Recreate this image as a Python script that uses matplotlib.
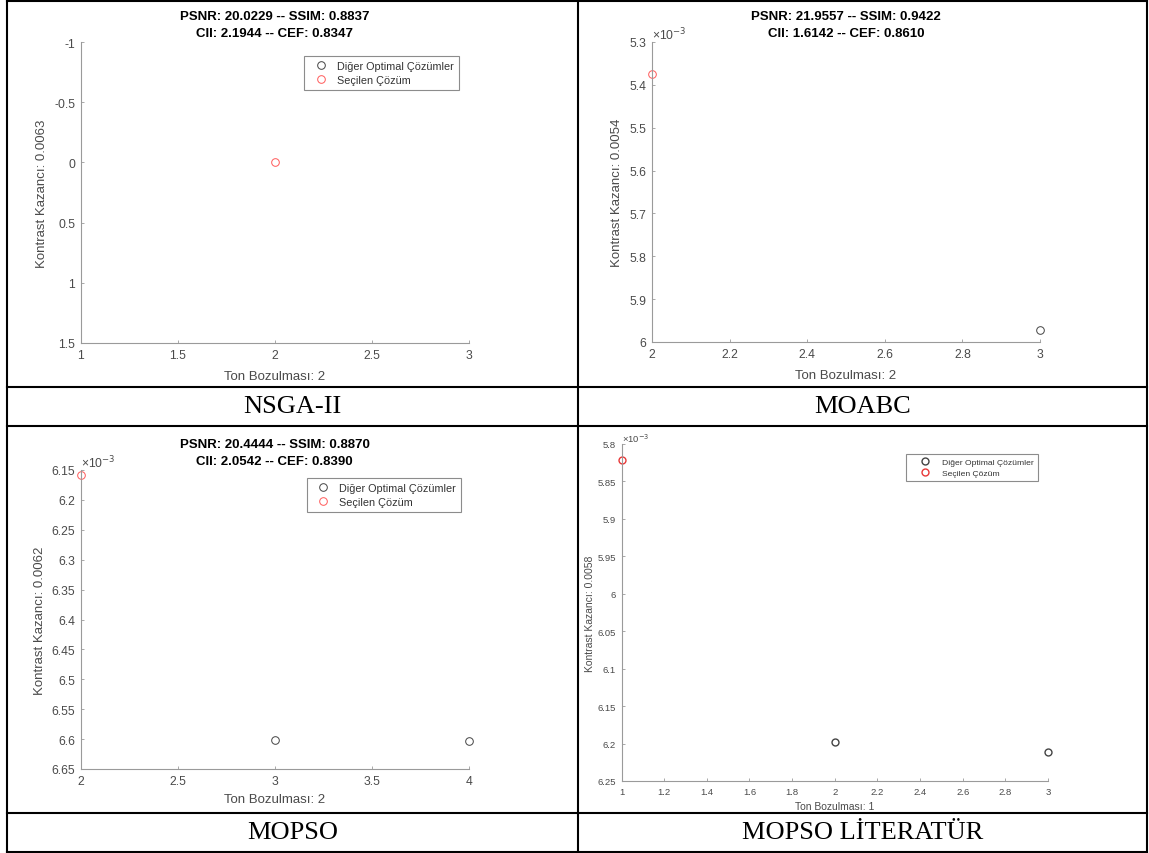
import matplotlib
matplotlib.use("Agg")
import matplotlib.pyplot as plt
from matplotlib.ticker import FixedLocator, FixedFormatter

plt.rcParams['font.family'] = ['Liberation Sans', 'DejaVu Sans']
plt.rcParams['axes.unicode_minus'] = False

W, H = 1149, 854

# =========================
# DATA (y values of panels 2-4 are in units of 1e-3)
# =========================
captions = ["NSGA-II", "MOABC", "MOPSO", "MOPSO LİTERATÜR"]
titles = ["PSNR: 20.0229 -- SSIM: 0.8837\nCII: 2.1944 -- CEF: 0.8347",
          "PSNR: 21.9557 -- SSIM: 0.9422\nCII: 1.6142 -- CEF: 0.8610",
          "PSNR: 20.4444 -- SSIM: 0.8870\nCII: 2.0542 -- CEF: 0.8390",
          None]
ylabels = ["Kontrast Kazancı: 0.0063", "Kontrast Kazancı: 0.0054",
           "Kontrast Kazancı: 0.0062", "Kontrast Kazancı: 0.0058"]
xlabels = ["Ton Bozulması: 2", "Ton Bozulması: 2",
           "Ton Bozulması: 2", "Ton Bozulması: 1"]
legend_labels = ["Diğer Optimal Çözümler", "Seçilen Çözüm"]

nsga_other_x, nsga_other_y = [], []
nsga_sel_x, nsga_sel_y = [2], [0]
moabc_other_x, moabc_other_y = [3], [5.972]
moabc_sel_x, moabc_sel_y = [2], [5.375]
mopso_other_x, mopso_other_y = [3, 4], [6.602, 6.604]
mopso_sel_x, mopso_sel_y = [2], [6.158]
lit_other_x, lit_other_y = [2, 3], [6.198, 6.211]
lit_sel_x, lit_sel_y = [1], [5.821]

nsga_xticks = [1, 1.5, 2, 2.5, 3]
nsga_yticks = [-1, -0.5, 0, 0.5, 1, 1.5]
moabc_xticks = [2, 2.2, 2.4, 2.6, 2.8, 3]
moabc_yticks = [5.3, 5.4, 5.5, 5.6, 5.7, 5.8, 5.9, 6]
mopso_xticks = [2, 2.5, 3, 3.5, 4]
mopso_yticks = [6.15, 6.2, 6.25, 6.3, 6.35, 6.4, 6.45, 6.5, 6.55, 6.6, 6.65]
lit_xticks = [1, 1.2, 1.4, 1.6, 1.8, 2, 2.2, 2.4, 2.6, 2.8, 3]
lit_yticks = [5.8, 5.85, 5.9, 5.95, 6, 6.05, 6.1, 6.15, 6.2, 6.25]

AX_COL = '#9a9a9a'
TXT_COL = '#4a4a4a'

fig = plt.figure(figsize=(W / 100, H / 100), dpi=100)

# =========================
# TABLE GRID + CAPTIONS
# =========================
bg = fig.add_axes([0, 0, 1, 1], zorder=-1)
bg.set_xlim(0, W)
bg.set_ylim(H, 0)
bg.axis('off')
xs = [7, 578, 1147]
ys = [2, 388, 427, 814, 853]
for y in ys:
    bg.plot([xs[0], xs[-1]], [y, y], color='black', lw=1.5, solid_capstyle='projecting')
for x in xs:
    bg.plot([x, x], [ys[0], ys[-1]], color='black', lw=1.5, solid_capstyle='projecting')
cap_pos = [(292.5, 407.5), (862.5, 407.5), (292.5, 833.5), (862.5, 833.5)]
for (cx, cy), txt in zip(cap_pos, captions):
    bg.text(cx, cy, txt, ha='center', va='center', fontsize=19,
            family=['Liberation Serif', 'DejaVu Serif'], color='black')


def px_rect(x0, y0, x1, y1):
    return [x0 / W, 1 - y1 / H, (x1 - x0) / W, (y1 - y0) / H]


def panel(rect, xticks, yticks, other, sel, title, xlabel, ylabel, fs,
          ylab_x, xlab_y, leg_anchor, leg_fs, handle_len, exp_label, ms, mew, sel_col):
    ax = fig.add_axes(px_rect(*rect))
    ax.plot(other[0], other[1], 'o', mfc='none', mec='#444444', ms=ms, mew=mew,
            label=legend_labels[0], clip_on=False)
    ax.plot(sel[0], sel[1], 'o', mfc='none', mec=sel_col, ms=ms, mew=mew,
            label=legend_labels[1], clip_on=False)
    ax.set_xlim(xticks[0], xticks[-1])
    ax.set_ylim(yticks[-1], yticks[0])
    ax.xaxis.set_major_locator(FixedLocator(xticks))
    ax.xaxis.set_major_formatter(FixedFormatter(['%g' % v for v in xticks]))
    ax.yaxis.set_major_locator(FixedLocator(yticks))
    ax.yaxis.set_major_formatter(FixedFormatter(['%g' % v for v in yticks]))
    for s in ['top', 'right']:
        ax.spines[s].set_visible(False)
    for s in ['left', 'bottom']:
        ax.spines[s].set_color(AX_COL)
        ax.spines[s].set_linewidth(0.8)
    ax.tick_params(direction='in', length=2.5, width=0.6, color=AX_COL,
                   labelcolor=TXT_COL, labelsize=fs)
    ax.tick_params(axis='x', pad=4.5)
    ax.tick_params(axis='y', pad=4)
    if title:
        ax.set_title(title, fontsize=fs * 1.1, fontweight='bold', pad=4,
                     linespacing=1.6, color='black')
    ax.set_xlabel(xlabel, fontsize=fs * 1.1, color=TXT_COL)
    ax.xaxis.label.set_va('center')
    ax.xaxis.set_label_coords(0.5, xlab_y)
    ax.set_ylabel(ylabel, fontsize=fs * 1.1, color=TXT_COL)
    ax.yaxis.label.set_va('center')
    ax.yaxis.set_label_coords(ylab_x, 0.5)
    if exp_label:
        ax.text(0.0, 1.0, '×10$^{-3}$', transform=ax.transAxes, ha='left',
                va='bottom', fontsize=fs, color=TXT_COL)
    if leg_anchor:
        leg = ax.legend(loc='upper right', bbox_to_anchor=leg_anchor,
                        borderaxespad=0, fontsize=leg_fs, fancybox=False,
                        handlelength=handle_len, handletextpad=0.36, borderpad=0.45,
                        labelspacing=0.4, framealpha=1)
        leg.get_frame().set_edgecolor('#8c8c8c')
        leg.get_frame().set_linewidth(0.8)
        for t in leg.get_texts():
            t.set_color('#333333')
    return ax


panel((80.6, 43, 469, 344), nsga_xticks, nsga_yticks,
      (nsga_other_x, nsga_other_y), (nsga_sel_x, nsga_sel_y),
      titles[0], xlabels[0], ylabels[0], 8.7,
      -0.099, -0.11, (0.9735, 0.9535), 7.8, 2.2, False, 5.5, 0.7, '#ff5a5a')

panel((652, 43, 1040, 343), moabc_xticks, moabc_yticks,
      (moabc_other_x, moabc_other_y), (moabc_sel_x, moabc_sel_y),
      titles[1], xlabels[1], ylabels[1], 8.7,
      -0.09, -0.11, None, 7.8, 2.2, True, 5.5, 0.7, '#ff5a5a')

panel((80.6, 471, 469, 770), mopso_xticks, mopso_yticks,
      (mopso_other_x, mopso_other_y), (mopso_sel_x, mopso_sel_y),
      titles[2], xlabels[2], ylabels[2], 8.7,
      -0.1045, -0.10, (0.979, 0.973), 7.8, 2.2, True, 5.5, 0.7, '#ff5a5a')

panel((621.5, 445, 1048, 782), lit_xticks, lit_yticks,
      (lit_other_x, lit_other_y), (lit_sel_x, lit_sel_y),
      None, xlabels[3], ylabels[3], 6.8,
      -0.074, -0.074, (0.9766, 0.970), 6.1, 3.5, True, 5.0, 1.0, '#e83838')

fig.savefig('out.png', dpi=100)
